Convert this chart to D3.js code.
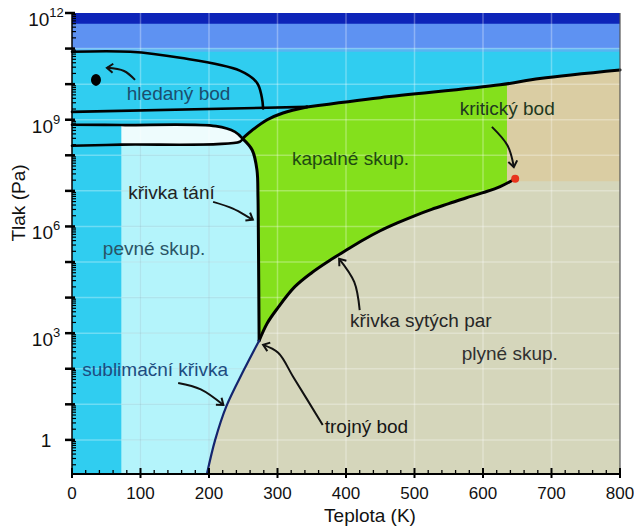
<!DOCTYPE html>
<html>
<head>
<meta charset="utf-8">
<script src="https://cdn.jsdelivr.net/npm/d3@7"></script>
<style>
  html, body { margin: 0; padding: 0; background: #fff; }
  svg { display: block; font-family: "Liberation Sans", Arial, sans-serif; }
</style>
</head>
<body>
<svg id="chart" width="634" height="528"></svg>
<script>
// ---- Data (T in K, pressure as log10 of P in Pa) ----
const sublimationCurve = [[197, -0.955], [209, 0], [225, 0.93], [251, 1.97], [273.16, 2.79]];
const vaporCurve = [[273.16, 2.79], [285, 3.28], [300, 3.70], [325, 4.30], [350, 4.70], [375, 5.03], [400, 5.33],
                    [425, 5.62], [450, 5.88], [475, 6.10], [500, 6.30], [525, 6.48], [550, 6.64], [575, 6.80],
                    [600, 6.95], [625, 7.12], [647, 7.34]];
const meltingCurve = [[273.16, 2.79], [272, 6.0], [271.5, 6.83], [270, 7.59], [263, 8.15], [249, 8.47]];
const liquidTopCurve = [[249, 8.47], [264, 8.72], [285, 9.0], [308, 9.19], [343, 9.36]];
const highIceLine = [[343, 9.36], [450, 9.62], [625, 9.98], [683, 10.16], [800, 10.40]];
const iceLineA = [[0, 10.91], [85, 10.91], [158, 10.74], [245, 10.38], [270, 10.04], [277, 9.64], [279, 9.32]];
const iceLineB = [[0, 9.22], [343, 9.36]];
const iceLineC = [[0, 8.86], [72, 8.85], [210, 8.82], [238, 8.66], [249, 8.47]];
const iceLineD = [[0, 8.27], [72, 8.30], [245, 8.38], [249, 8.47]];
const iceXIEdgeT = 72;          // ice XI / ice Ih boundary
const liquidEdgeT = 635;        // right edge of the liquid colour
const supercriticalLogP = 7.27; // bottom of the supercritical colour
const criticalPoint = [647, 7.34];
const searchedPoint = [35, 10.12];
const bandLogP = [10.91, 11.01, 11.70, 12];   // thin band, medium band, dark band limits

const xTicks = [0, 100, 200, 300, 400, 500, 600, 700, 800];
const yLabelDecades = [0, 3, 6, 9, 12];

const labels = [
    { text: 'hledaný bod',       T: 80,  logP: 9.56, color: '#1c4e6e' },
    { text: 'kritický bod',      T: 566, logP: 9.14, color: '#203820' },
    { text: 'kapalné skup.',     T: 321, logP: 7.73, color: '#1f4a12' },
    { text: 'křivka tání',       T: 82,  logP: 6.78, color: '#222222' },
    { text: 'pevné skup.',       T: 45,  logP: 5.20, color: '#2a5466' },
    { text: 'sublimační křivka', T: 15,  logP: 1.80, color: '#1d4c80' },
    { text: 'křivka sytých par', T: 406, logP: 3.18, color: '#262626' },
    { text: 'plyné skup.',       T: 569, logP: 2.25, color: '#303030' },
    { text: 'trojný bod',        T: 369, logP: 0.20, color: '#151515' }
];
const arrows = [
    [[92, 10.12], [76, 10.37], [51, 10.46]],
    [[613, 8.80], [636, 8.27], [645, 7.67]],
    [[206, 6.69], [235, 6.50], [264, 6.19]],
    [[155, 1.60], [188, 1.42], [221, 0.98]],
    [[366, 0.42], [323, 1.77], [301, 2.45], [279, 2.67]],
    [[420, 3.65], [412, 4.44], [390, 5.09]]
];

// ---- Colours ----
const GAS = '#d5d6bb', SUPER = '#dacda3', LIQUID = '#84e01c', ICE = '#30cdf0',
      ICE_IH = '#b4f4fb', ICE_II = '#eefcfd', BAND_THIN = '#58b4f2', BAND_MID = '#5e92f2', BAND_DARK = '#0d24b8';

// ---- Scales ----
const x = d3.scaleLinear().domain([0, 800]).range([72, 620]);
const y = d3.scaleLog().domain([0.11, 1e12]).range([474, 13]);
const yl = (lp) => y(Math.pow(10, lp));
const pt = (d) => [x(d[0]), yl(d[1])];

const svg = d3.select('#chart');
const curved = d3.line().curve(d3.curveCatmullRom.alpha(0.5));
const straight = d3.line();

// a curve through data points, or a straight polyline when wrapped with lin()
const lin = (points) => ({ points });
function seg(s) {
    return s.points ? straight(s.points.map(pt)) : curved(s.map(pt));
}
function region(segments) {
    return segments.map((s, i) => i ? seg(s).replace(/^M/, 'L') : seg(s)).join('') + 'Z';
}
function vaporAt(T) {
    for (let i = 1; i < vaporCurve.length; i++) {
        const a = vaporCurve[i - 1], b = vaporCurve[i];
        if (T <= b[0]) return a[1] + (b[1] - a[1]) * (T - a[0]) / (b[0] - a[0]);
    }
    return vaporCurve[vaporCurve.length - 1][1];
}

const yMinLog = Math.log10(0.11);
const subStartT = sublimationCurve[0][0];
const plot = svg.append('g');

// Gas background
plot.append('path')
    .attr('d', region([lin([[0, yMinLog], [800, yMinLog], [800, 12], [0, 12]])]))
    .attr('fill', GAS);

// Supercritical
plot.append('path')
    .attr('d', region([lin([[liquidEdgeT, supercriticalLogP], [800, supercriticalLogP], [800, 12], [liquidEdgeT, 12]])]))
    .attr('fill', SUPER);

// Liquid (area above the ice boundary gets covered by the ice fill)
const vaporPart = vaporCurve.filter((d) => d[0] < liquidEdgeT).concat([[liquidEdgeT, vaporAt(liquidEdgeT)]]);
plot.append('path')
    .attr('d', region([vaporPart, lin([[liquidEdgeT, vaporAt(liquidEdgeT)], [liquidEdgeT, 12], [249, 12]]), meltingCurve.slice().reverse()]))
    .attr('fill', LIQUID);

// Solid phases
plot.append('path')
    .attr('d', region([lin([[0, yMinLog], [subStartT, yMinLog]]), sublimationCurve, meltingCurve, liquidTopCurve, highIceLine, lin([[800, 12], [0, 12]])]))
    .attr('fill', ICE);

const iceIhPath = region([lin([[iceXIEdgeT, yMinLog], [subStartT, yMinLog]]), sublimationCurve, meltingCurve, iceLineD.slice(1).reverse()]);
plot.append('path').attr('d', iceIhPath).attr('fill', ICE_IH);

plot.append('path')
    .attr('d', region([iceLineC.slice(1), iceLineD.slice(1).reverse()]))
    .attr('fill', ICE_II);

// Top bands
[[bandLogP[0], bandLogP[1], BAND_THIN], [bandLogP[1], bandLogP[3], BAND_MID], [bandLogP[2], bandLogP[3], BAND_DARK]]
    .forEach(([lo, hi, c]) => {
        plot.append('path')
            .attr('d', region([lin([[0, lo], [800, lo], [800, hi], [0, hi]])]))
            .attr('fill', c);
    });

// Grid (light lines, a bit darker over the pale ice region)
svg.append('defs').append('clipPath').attr('id', 'ihClip').append('path').attr('d', iceIhPath);

function drawGrid(g) {
    xTicks.slice(1, -1).forEach((t) => {
        g.append('line').attr('x1', x(t)).attr('x2', x(t)).attr('y1', yl(12)).attr('y2', yl(yMinLog));
    });
    d3.range(0, 12).forEach((d) => {
        g.append('line').attr('x1', x(0)).attr('x2', x(800)).attr('y1', yl(d)).attr('y2', yl(d));
    });
}
drawGrid(svg.append('g').attr('stroke', '#ffffff').attr('stroke-opacity', 0.3).attr('stroke-width', 1.5));
drawGrid(svg.append('g').attr('clip-path', 'url(#ihClip)').attr('stroke', '#6fb8c8').attr('stroke-opacity', 0.3).attr('stroke-width', 1.2));

// Phase boundaries
const lines = svg.append('g').attr('fill', 'none').attr('stroke-linejoin', 'round').attr('stroke-linecap', 'round');
[vaporCurve, meltingCurve, liquidTopCurve, highIceLine].forEach((c) => {
    lines.append('path').attr('d', seg(c)).attr('stroke', '#000').attr('stroke-width', 3);
});
[iceLineA, iceLineB, iceLineC, iceLineD].forEach((c) => {
    lines.append('path').attr('d', seg(c)).attr('stroke', '#000').attr('stroke-width', 2.6);
});
lines.append('path').attr('d', seg(sublimationCurve)).attr('stroke', '#14256e').attr('stroke-width', 2.2);

// Points
svg.append('circle').attr('cx', x(criticalPoint[0])).attr('cy', yl(criticalPoint[1])).attr('r', 4).attr('fill', '#e8341c');
svg.append('ellipse').attr('cx', x(searchedPoint[0])).attr('cy', yl(searchedPoint[1])).attr('rx', 5).attr('ry', 6).attr('fill', '#000');

// Arrows
svg.select('defs').append('marker')
    .attr('id', 'head').attr('viewBox', '-8 -6 10 12')
    .attr('markerWidth', 10).attr('markerHeight', 12)
    .attr('markerUnits', 'userSpaceOnUse')
    .attr('orient', 'auto')
    .append('path').attr('d', 'M-6,-4.5L0,0L-6,4.5')
    .attr('fill', 'none').attr('stroke', '#111').attr('stroke-width', 2);

const arrowG = svg.append('g').attr('fill', 'none').attr('stroke', '#111').attr('stroke-width', 2);
arrows.forEach((a) => {
    arrowG.append('path').attr('d', seg(a)).attr('marker-end', 'url(#head)');
});

// Labels
svg.append('g').selectAll('text').data(labels).enter().append('text')
    .attr('x', (d) => x(d.T))
    .attr('y', (d) => yl(d.logP))
    .attr('font-size', 19)
    .attr('fill', (d) => d.color)
    .text((d) => d.text);

// Axes
const axes = svg.append('g').attr('stroke', '#000');
axes.append('line').attr('x1', x(800)).attr('x2', x(800)).attr('y1', yl(12)).attr('y2', yl(yMinLog))
    .attr('stroke', '#555').attr('stroke-width', 1.2);
axes.append('line').attr('x1', x(0)).attr('x2', x(0)).attr('y1', yl(12)).attr('y2', yl(yMinLog) + 1).attr('stroke-width', 1.5);
axes.append('line').attr('x1', x(0) - 1).attr('x2', x(800)).attr('y1', yl(yMinLog)).attr('y2', yl(yMinLog)).attr('stroke-width', 2);

// x ticks: major every 100 K, minor every 20 K
d3.range(0, 801, 20).forEach((t) => {
    const major = t % 100 === 0;
    axes.append('line')
        .attr('x1', x(t)).attr('x2', x(t))
        .attr('y1', yl(yMinLog) - (major ? 6 : 4)).attr('y2', yl(yMinLog) + (major ? 4 : 0))
        .attr('stroke-width', major ? 2 : 1.3);
});
svg.append('g').selectAll('text').data(xTicks).enter().append('text')
    .attr('x', (d) => x(d)).attr('y', 499)
    .attr('text-anchor', 'middle').attr('font-size', 17).attr('fill', '#111')
    .text((d) => d);

// y ticks: major every decade, minor 2..9
d3.range(0, 13).forEach((d) => {
    axes.append('line').attr('x1', x(0) - 7).attr('x2', x(0) + 3)
        .attr('y1', yl(d)).attr('y2', yl(d)).attr('stroke-width', 2.5);
});
d3.range(-1, 12).forEach((d) => {
    d3.range(2, 10).forEach((k) => {
        const v = k * Math.pow(10, d);
        if (v < 0.11 || v > 1e12) return;
        axes.append('line').attr('x1', x(0)).attr('x2', x(0) + 4)
            .attr('y1', y(v)).attr('y2', y(v)).attr('stroke-width', 1.2);
    });
});
yLabelDecades.forEach((d) => {
    const t = svg.append('text').attr('x', 46).attr('text-anchor', 'middle').attr('fill', '#111');
    if (d === 0) {
        t.attr('y', yl(d) + 7).attr('font-size', 19).text('1');
    } else {
        t.attr('y', yl(d) + 13);
        t.append('tspan').attr('font-size', 19).text('10');
        t.append('tspan').attr('font-size', 13).attr('dy', -9).text(d);
    }
});

// Axis titles
svg.append('text').attr('x', 370).attr('y', 522).attr('text-anchor', 'middle')
    .attr('font-size', 19).attr('fill', '#111').text('Teplota (K)');
svg.append('text').attr('transform', 'translate(25,203) rotate(-90)').attr('text-anchor', 'middle')
    .attr('font-size', 19).attr('fill', '#111').text('Tlak (Pa)');
</script>
</body>
</html>
